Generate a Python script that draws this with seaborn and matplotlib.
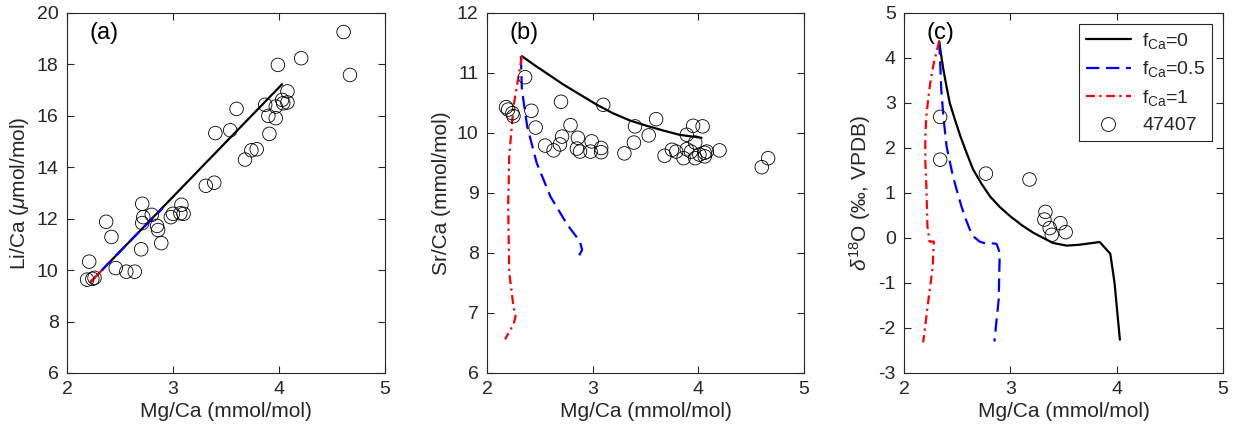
import numpy as np
import pandas as pd
import matplotlib
matplotlib.use("Agg")
import matplotlib.pyplot as plt
import seaborn as sns
from matplotlib.lines import Line2D

# ---------------- data ----------------
# sample 47407 : panel (a)
mg_a = [4.61, 4.67, 4.21, 3.99, 4.08, 3.87, 3.97, 4.04, 4.08, 3.90, 3.97, 3.91, 4.03,
        3.60, 3.54, 3.40, 3.68, 3.74, 3.79, 3.31, 3.39, 2.71, 2.72, 2.80, 2.71, 2.85,
        2.86, 2.89, 2.70, 2.98, 3.00, 3.08, 3.07, 3.10, 2.37, 2.42, 2.46, 2.56, 2.64,
        2.21, 2.19, 2.24, 2.26]
li_a = [19.26, 17.59, 18.24, 17.98, 16.95, 16.43, 16.36, 16.49, 16.52, 16.00, 15.91, 15.30, 16.62,
        16.27, 15.44, 15.33, 14.30, 14.66, 14.70, 13.28, 13.40, 12.58, 12.06, 12.15, 11.83, 11.72,
        11.56, 11.05, 10.81, 12.06, 12.19, 12.54, 12.21, 12.19, 11.88, 11.29, 10.08, 9.94, 9.94,
        10.33, 9.63, 9.66, 9.70]

# sample 47407 : panel (b)
mg_b = [2.36, 2.18, 2.20, 2.24, 2.25, 2.42, 2.46, 2.70, 2.55, 2.63, 2.69, 2.71, 2.79,
        2.86, 2.85, 2.88, 2.99, 2.98, 3.08, 3.08, 3.10, 3.30, 3.39, 3.40, 3.53, 3.60,
        3.68, 3.75, 3.79, 3.86, 3.89, 3.89, 3.93, 3.95, 3.97, 3.97, 4.01, 4.04, 4.06,
        4.06, 4.08, 4.20, 4.60, 4.66]
sr_b = [10.93, 10.43, 10.39, 10.33, 10.28, 10.37, 10.09, 10.52, 9.79, 9.71, 9.81, 9.94, 10.13,
        9.92, 9.74, 9.69, 9.86, 9.69, 9.75, 9.68, 10.47, 9.66, 9.84, 10.11, 9.96, 10.23,
        9.62, 9.72, 9.69, 9.58, 9.97, 9.73, 9.69, 10.12, 9.84, 9.58, 9.64, 10.11, 9.67,
        9.61, 9.69, 9.71, 9.43, 9.58]

# sample 47407 : panel (c)
mg_c = [2.34, 2.34, 2.77, 3.18, 3.33, 3.32, 3.37, 3.39, 3.47, 3.52]
d18o_c = [2.69, 1.74, 1.43, 1.30, 0.58, 0.41, 0.22, 0.07, 0.33, 0.13]

# model curves (f_Ca = 0, 0.5, 1)
mod_a_mg = {"0": [2.33, 3.00, 3.50, 4.03],
            "0.5": [2.33, 2.60, 2.90, 2.85],
            "1": [2.33, 2.25, 2.21, 2.27, 2.18]}
mod_a_li = {"0": [10.00, 12.85, 14.98, 17.23],
            "0.5": [10.00, 11.15, 12.40, 12.20],
            "1": [10.00, 9.66, 9.49, 9.74, 9.36]}

mod_b_mg = {"0": [2.33, 2.45, 2.56, 2.72, 2.88, 3.04, 3.19, 3.35, 3.51, 3.67, 3.82, 4.03],
            "0.5": [2.32, 2.33, 2.38, 2.47, 2.60, 2.76, 2.88, 2.90, 2.85],
            "1": [2.33, 2.25, 2.21, 2.20, 2.21, 2.25, 2.27, 2.25, 2.17]}
mod_b_sr = {"0": [11.28, 11.13, 11.00, 10.81, 10.64, 10.47, 10.33, 10.21, 10.12, 10.04, 9.97, 9.92],
            "0.5": [11.28, 10.72, 10.11, 9.50, 8.94, 8.47, 8.19, 8.05, 7.89],
            "1": [11.28, 10.44, 9.61, 8.78, 7.67, 7.11, 6.94, 6.81, 6.56]}

mod_c_mg = {"0": [2.33, 2.35, 2.37, 2.40, 2.43, 2.48, 2.53, 2.59, 2.65, 2.73, 2.81, 2.90, 3.00,
                  3.11, 3.22, 3.31, 3.40, 3.53, 3.65, 3.84, 3.94, 3.98, 4.03],
            "0.5": [2.33, 2.34, 2.35, 2.37, 2.40, 2.43, 2.46, 2.50, 2.54, 2.58, 2.62, 2.66,
                    2.71, 2.75, 2.79, 2.87, 2.90, 2.89, 2.85],
            "1": [2.33, 2.28, 2.25, 2.23, 2.21, 2.20, 2.20, 2.21, 2.22, 2.24, 2.28, 2.27,
                  2.23, 2.18]}
mod_c_d = {"0": [4.37, 4.05, 3.74, 3.36, 3.00, 2.62, 2.26, 1.88, 1.52, 1.20, 0.92, 0.69, 0.48,
                 0.28, 0.11, 0.00, -0.11, -0.17, -0.15, -0.09, -0.35, -1.00, -2.26],
           "0.5": [4.37, 3.90, 3.30, 2.70, 2.04, 1.70, 1.37, 1.03, 0.70, 0.42, 0.18, 0.02,
                   -0.08, -0.11, -0.11, -0.13, -0.33, -1.37, -2.30],
           "1": [4.37, 3.89, 3.50, 3.15, 2.70, 2.26, 1.70, 1.15, 0.26, -0.08, -0.08, -0.63,
                 -1.37, -2.32]}

fractions = ["0", "0.5", "1"]
legend_labels = ["f$_{\\mathrm{Ca}}$=0", "f$_{\\mathrm{Ca}}$=0.5", "f$_{\\mathrm{Ca}}$=1", "47407"]
xticks = [2, 3, 4, 5]

# ---------------- style ----------------
sns.set_theme(style="ticks")
plt.rcParams["font.family"] = ["Liberation Sans", "DejaVu Sans"]
plt.rcParams["mathtext.fontset"] = "custom"
plt.rcParams["mathtext.rm"] = "Liberation Sans"
plt.rcParams["mathtext.it"] = "Liberation Sans:italic"
plt.rcParams["mathtext.bf"] = "Liberation Sans:bold"
plt.rcParams["axes.unicode_minus"] = False

DARK = "#262626"
line_styles = {"0": dict(color="black", linestyle="-"),
               "0.5": dict(color=(0, 0, 1), linestyle=(0, (6, 3))),
               "1": dict(color=(1, 0, 0), linestyle=(0, (4, 2, 1, 2)))}

fig = plt.figure(figsize=(12.33, 4.37), dpi=100)
positions = [[0.0543, 0.1465, 0.2579, 0.8238],
             [0.3950, 0.1465, 0.2571, 0.8238],
             [0.7332, 0.1465, 0.2587, 0.8238]]
axes = [fig.add_axes(p) for p in positions]


def draw(ax, mods_x, mods_y, px, py):
    for f in fractions:
        sns.lineplot(x=mods_x[f], y=mods_y[f], sort=False, estimator=None, ax=ax,
                     linewidth=1.6, **line_styles[f])
    sns.scatterplot(x=px, y=py, ax=ax, marker="o", s=95, facecolor="none",
                    edgecolor="black", linewidth=0.6, zorder=5)


draw(axes[0], mod_a_mg, mod_a_li, mg_a, li_a)
draw(axes[1], mod_b_mg, mod_b_sr, mg_b, sr_b)
draw(axes[2], mod_c_mg, mod_c_d, mg_c, d18o_c)

ylims = [(6, 20), (6, 12), (-3, 5)]
yticks = [[6, 8, 10, 12, 14, 16, 18, 20], [6, 7, 8, 9, 10, 11, 12], list(range(-3, 6))]
ylabels = ["Li/Ca ($\\mu$mol/mol)", "Sr/Ca (mmol/mol)", "$\\delta^{18}$O (‰, VPDB)"]
panel = ["(a)", "(b)", "(c)"]

for ax, yl, yt, ylab, p in zip(axes, ylims, yticks, ylabels, panel):
    ax.set_xlim(2, 5)
    ax.set_ylim(*yl)
    ax.set_xticks(xticks)
    ax.set_yticks(yt)
    ax.tick_params(direction="in", length=5, width=0.8, top=True, right=True,
                   labelsize=14, colors=DARK, pad=6)
    for s in ax.spines.values():
        s.set_visible(True)
        s.set_color(DARK)
        s.set_linewidth(0.8)
    ax.set_xlabel("Mg/Ca (mmol/mol)", fontsize=15, color=DARK, labelpad=3)
    ax.set_ylabel(ylab, fontsize=15, color=DARK, labelpad=4)
    ax.text(0.07, 0.945, p, transform=ax.transAxes, fontsize=17, color="black",
            ha="left", va="center", zorder=10)

handles = [Line2D([], [], linewidth=1.6, **line_styles[f]) for f in fractions]
handles.append(Line2D([], [], linestyle="none", marker="o", markersize=10,
                      markerfacecolor="none", markeredgecolor="black", markeredgewidth=0.6))
leg = axes[2].legend(handles, legend_labels, loc="upper right", bbox_to_anchor=(0.967, 0.97),
                     borderaxespad=0, fontsize=14, frameon=True, fancybox=False, framealpha=1,
                     edgecolor=DARK, handlelength=2.3, handletextpad=0.6,
                     borderpad=0.35, labelspacing=0.45)
leg.get_frame().set_linewidth(0.8)

fig.savefig("out.png", dpi=100)
